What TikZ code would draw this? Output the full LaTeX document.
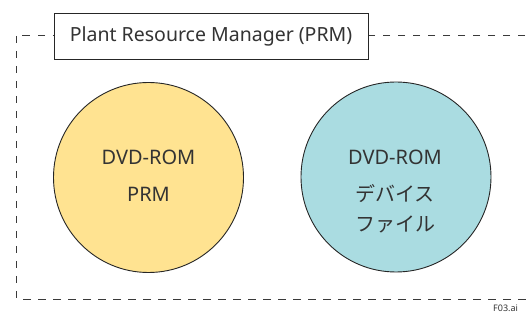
\documentclass[tikz,border=0pt]{standalone}
\usepackage{fontspec}
\setmainfont{Noto Sans}
\newfontfamily\jpfont{Noto Sans CJK JP}
\definecolor{txt}{HTML}{333333}
\definecolor{cdisk}{HTML}{FFE391}
\definecolor{cdev}{HTML}{AADCE1}
\definecolor{dline}{HTML}{3A3A3A}
\tikzset{
  disk/.style={circle, draw=black!85, line width=0.9pt, minimum size=190pt, inner sep=0pt},
  lbl/.style={text=txt, font=\fontsize{20}{24}\selectfont, anchor=base, inner sep=0pt},
  jlbl/.style={text=txt, font=\jpfont\fontsize{20}{24}\selectfont, anchor=base, inner sep=0pt},
  frame/.style={draw=dline, line width=0.9pt, dash pattern=on 7.5pt off 7.5pt},
  titlebox/.style={draw=black!85, line width=0.9pt, fill=white, minimum width=314pt, minimum height=46pt, text=txt, font=\fontsize{19.5}{24}\selectfont, inner sep=0pt}
}
\begin{document}
\begin{tikzpicture}[x=1pt,y=-1pt]
\useasboundingbox (0,0) rectangle (528,320);
\clip (0,0) rectangle (528,320);
\coordinate (tr) at (540,35);
\coordinate (br) at (540,299);
\coordinate (tl) at (16,35);
\coordinate (bl) at (16,299);
\draw[frame] (tr) -- (tl) -- (bl) -- (br);
\node[titlebox] (title) at (211,36) {Plant Resource Manager (PRM)};
\node[disk, fill=cdisk] (prm) at (148.5,177.5) {};
\node[disk, fill=cdev] (dev) at (396,177) {};
\node[lbl] (prm1) at (148.5,165) {DVD-ROM};
\node[lbl] (prm2) at (148.5,202) {PRM};
\node[lbl] (dev1) at (395,165) {DVD-ROM};
\node[jlbl] (dev2) at (395,201.5) {デバイス};
\node[jlbl] (dev3) at (395,232) {ファイル};
\node[text=black!80, font=\fontsize{9}{10}\selectfont, anchor=base west, inner sep=0pt] (fname) at (493,312) {F03.ai};
\end{tikzpicture}
\end{document}
